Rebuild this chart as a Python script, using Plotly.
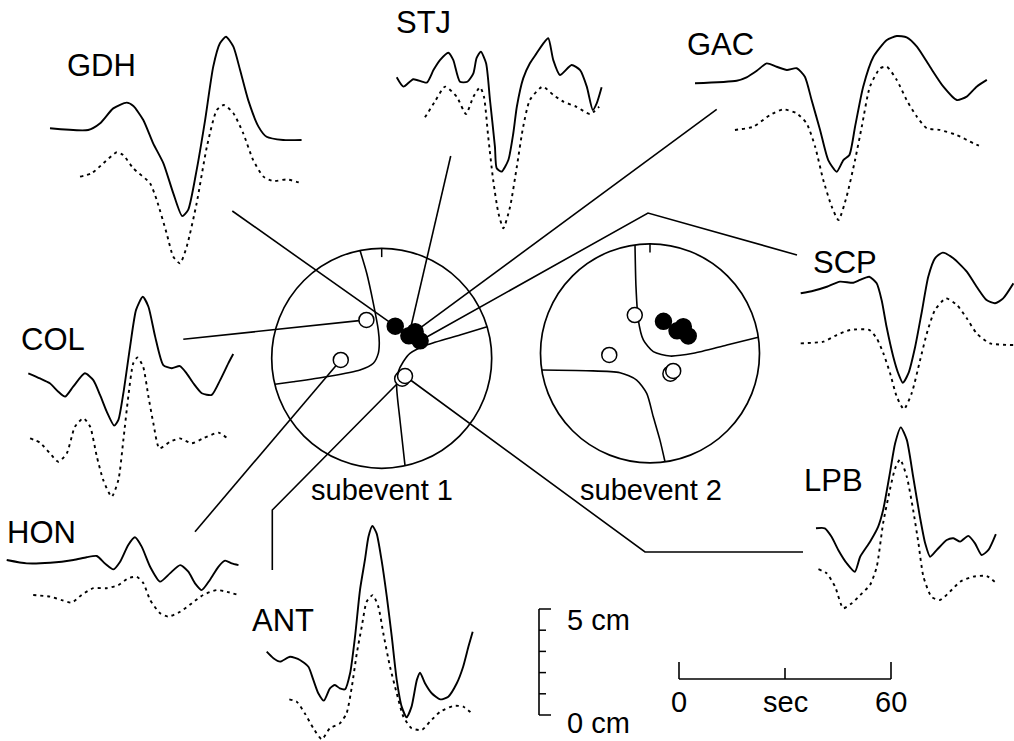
import plotly.graph_objects as go

# ---------------- DATA (time in s from trace start, amplitude in cm) ----------------
STATIONS = ["GDH", "STJ", "GAC", "SCP", "COL", "HON", "ANT", "LPB"]

GDH_T_OBS = [0, 10.8, 14.2, 17.9, 21.7, 23.6, 26.4, 29.2, 32.1, 34.9, 37.4, 39.1, 41.5, 43.9, 46.2, 48.1, 49.8, 51.9, 53.8, 56.1, 59.0, 61.3, 66.0, 71.2]
GDH_A_OBS = [0, -0.08, 0.24, 0.94, 1.21, 1.05, 0.39, -0.71, -1.65, -3.07, -4.14, -3.85, -1.97, 0.39, 2.91, 4.01, 4.32, 3.85, 2.75, 1.33, 0.08, -0.40, -0.55, -0.55]
GDH_T_SYN = [8.5, 11.8, 15.1, 18.9, 20.7, 23.6, 28.3, 30.2, 33.0, 34.9, 36.8, 38.7, 41.5, 44.4, 47.2, 49.2, 51.9, 54.7, 57.5, 60.4, 63.2, 67.0, 71.2]
GDH_A_SYN = [-2.28, -2.12, -1.65, -1.13, -1.26, -1.89, -2.59, -3.38, -4.95, -6.06, -6.37, -5.58, -3.54, -0.87, 0.86, 1.10, 0.71, -0.24, -1.50, -2.28, -2.49, -2.41, -2.59]

STJ_T_OBS = [0, 1.9, 4.7, 8.5, 10.4, 12.3, 14.6, 16.0, 17.9, 20.0, 21.7, 22.6, 23.8, 25.3, 26.4, 27.8, 28.3, 29.7, 31.6, 33.0, 34.0, 35.8, 37.7, 39.6, 41.5, 42.9, 44.3, 46.2, 49.5, 51.9, 53.8, 55.5, 56.6, 58.0]
STJ_A_OBS = [0, -0.44, -0.09, -0.25, 0.34, 0.82, 1.16, 0.82, -0.21, -0.21, 0.19, 0.90, 1.21, 0.66, -1.07, -3.27, -4.29, -4.45, -3.90, -2.64, -1.39, -0.05, 0.66, 1.13, 1.60, 1.84, 0.82, 0.11, 0.58, 0.34, -0.44, -1.54, -1.23, -0.47]
STJ_T_SYN = [8.0, 10.8, 13.7, 17.0, 19.6, 21.7, 23.6, 24.7, 25.9, 27.3, 28.8, 30.2, 32.1, 34.0, 35.8, 37.7, 41.3, 44.3, 47.2, 50.9, 54.7, 57.3]
STJ_A_SYN = [-1.89, -1.15, -0.44, -0.92, -1.73, -0.92, -0.47, -0.92, -2.80, -4.84, -6.42, -7.12, -6.10, -4.22, -2.33, -1.07, -0.44, -0.83, -1.15, -1.39, -1.73, -1.39]

GAC_T_OBS = [0, 11.8, 14.6, 17.5, 20.3, 23.1, 26.0, 28.8, 31.1, 33.0, 35.4, 37.7, 40.1, 42.0, 43.7, 45.3, 47.6, 50.5, 54.3, 57.1, 59.9, 62.8, 66.5, 70.3, 74.1, 76.9, 79.7, 82.6]
GAC_A_OBS = [0, 0.12, 0.28, 0.59, 0.94, 0.78, 0.63, 0.71, 0.31, -0.79, -2.20, -3.62, -4.17, -3.62, -3.38, -2.05, -0.16, 1.25, 2.04, 2.23, 2.17, 1.73, 0.78, -0.16, -0.79, -0.63, -0.16, 0.16]
GAC_T_SYN = [11.3, 16.5, 21.2, 25.0, 28.8, 31.6, 34.0, 36.3, 38.7, 40.6, 42.9, 45.3, 47.2, 49.5, 52.4, 54.3, 57.1, 59.9, 62.8, 65.6, 69.3, 74.1, 78.8, 81.1]
GAC_A_SYN = [-2.20, -2.05, -1.50, -1.23, -1.42, -1.89, -2.99, -4.56, -5.82, -6.45, -5.35, -3.62, -2.05, -0.16, 0.71, 0.78, 0.16, -0.79, -1.58, -2.12, -2.20, -2.44, -2.83, -2.99]

SCP_T_OBS = [0, 3.6, 7.4, 11.1, 14.9, 16.8, 19.4, 21.5, 22.9, 24.3, 26.2, 27.6, 28.9, 30.5, 32.4, 34.2, 36.1, 38.0, 40.2, 43.2, 47.0, 49.8, 52.6, 55.0, 57.3, 60.2]
SCP_A_OBS = [0, 0.12, 0.31, 0.55, 0.50, 0.63, 0.78, 0.47, -0.32, -1.58, -2.99, -3.77, -4.22, -3.77, -2.52, -0.94, 0.78, 1.65, 1.92, 1.65, 1.02, 0.31, -0.32, -0.47, -0.24, 0.47]
SCP_T_SYN = [0, 6.4, 10.2, 14.0, 19.4, 21.5, 23.4, 25.3, 27.2, 29.2, 31.4, 33.8, 35.7, 38.0, 41.1, 44.2, 47.0, 49.8, 53.6, 60.2]
SCP_A_SYN = [-2.36, -2.28, -1.97, -1.73, -1.73, -2.12, -2.83, -3.77, -4.88, -5.47, -4.72, -3.15, -1.89, -0.79, -0.24, -0.55, -1.18, -1.89, -2.36, -2.44]

COL_T_OBS = [0, 3.3, 6.1, 8.5, 10.4, 12.7, 16.0, 18.4, 20.3, 22.2, 24.3, 25.5, 26.9, 28.8, 30.5, 32.4, 34.0, 35.9, 38.2, 40.6, 42.9, 44.8, 46.7, 49.1, 51.9, 54.3, 56.6, 58.0]
COL_A_OBS = [0, -0.24, -0.47, -0.87, -1.10, -0.63, 0, -0.32, -1.02, -1.81, -2.47, -2.20, -0.94, 1.25, 2.99, 3.61, 3.14, 1.73, 0.39, 0.24, 0.34, 0, -0.47, -0.94, -1.02, -0.32, 0.47, 0.91]
COL_T_SYN = [0.5, 3.3, 6.1, 8.5, 10.9, 13.2, 15.6, 17.5, 19.4, 21.2, 23.6, 25.5, 26.9, 28.3, 29.7, 30.9, 32.5, 34.0, 35.4, 37.1, 40.1, 42.9, 46.2, 49.5, 53.8, 56.4]
COL_A_SYN = [-3.07, -3.27, -3.77, -4.17, -3.77, -2.52, -2.12, -2.52, -3.93, -5.03, -5.82, -5.03, -3.15, -1.10, 0.47, 0.75, 0.31, -1.10, -2.36, -3.54, -3.23, -3.07, -3.30, -3.07, -2.80, -3.07]

HON_T_OBS = [0, 5.7, 12.3, 18.9, 22.6, 25.5, 27.8, 30.2, 32.1, 34.4, 36.3, 38.2, 40.6, 43.4, 46.2, 49.1, 51.4, 53.3, 55.2, 57.5, 59.9, 61.8, 63.7, 65.6]
HON_A_OBS = [0, -0.16, -0.13, 0, 0.13, 0.19, -0.16, -0.44, -0.08, 0.71, 1.07, 0.63, -0.32, -1.02, -0.63, -0.24, -0.55, -1.10, -1.42, -0.94, -0.32, -0.03, -0.16, -0.24]
HON_T_SYN = [7.5, 12.3, 15.6, 18.4, 21.2, 24.5, 28.3, 31.6, 34.4, 36.8, 38.7, 40.6, 43.4, 45.7, 49.1, 52.4, 55.6, 59.4, 62.3, 65.6]
HON_A_SYN = [-1.65, -1.73, -1.89, -2.01, -1.65, -1.33, -1.33, -1.18, -0.86, -0.79, -1.10, -1.89, -2.51, -2.67, -2.44, -2.04, -1.65, -1.42, -1.50, -1.65]

ANT_T_OBS = [0, 1.9, 3.8, 6.6, 9.4, 11.8, 13.2, 14.6, 16.2, 17.9, 19.3, 20.7, 22.2, 23.6, 25.0, 26.4, 27.8, 28.8, 29.9, 31.1, 32.5, 34.0, 35.4, 36.8, 38.2, 39.6, 41.0, 42.5, 43.4, 44.8, 46.7, 49.1, 51.4, 53.8, 55.6, 57.1, 58.3]
ANT_A_OBS = [0, -0.31, -0.47, -0.24, -0.39, -0.71, -1.33, -1.96, -2.31, -1.73, -1.57, -1.73, -1.77, -1.02, 0.71, 2.91, 4.33, 5.42, 5.93, 5.58, 4.33, 2.59, 0.71, -1.33, -2.59, -3.09, -2.59, -1.33, -0.99, -1.49, -1.96, -2.25, -2.12, -1.49, -0.71, 0.24, 0.94]
ANT_T_SYN = [6.4, 8.5, 10.8, 13.2, 15.6, 17.9, 20.7, 22.6, 24.1, 25.5, 26.9, 28.3, 30.0, 31.6, 33.0, 34.9, 36.8, 38.7, 41.0, 43.9, 46.2, 49.1, 52.8, 55.6, 58.3]
ANT_A_SYN = [-2.25, -2.36, -2.91, -3.61, -4.13, -3.61, -3.38, -2.91, -1.65, -0.08, 1.18, 2.36, 2.67, 2.12, 0.87, -0.71, -1.96, -3.07, -3.61, -3.69, -3.30, -2.83, -2.56, -2.59, -2.94]

LPB_T_OBS = [0, 2.5, 4.4, 6.3, 8.7, 11.0, 12.5, 15.3, 17.6, 19.0, 20.9, 22.4, 24.0, 25.7, 27.5, 29.4, 30.9, 32.3, 34.2, 37.0, 38.9, 40.8, 43.1, 45.0, 46.9, 48.8, 50.9]
LPB_A_OBS = [0, 0, -0.40, -1.02, -1.65, -2.05, -1.34, -0.63, 0.08, 0.86, 2.59, 4.01, 4.76, 4.17, 2.43, 0.55, -0.71, -1.34, -1.02, -0.55, -0.47, -0.63, -0.36, -0.71, -1.26, -1.02, -0.27]
LPB_T_SYN = [0.7, 3.0, 5.4, 7.7, 10.1, 12.5, 15.3, 17.2, 19.0, 20.9, 22.4, 23.8, 25.7, 27.5, 29.0, 30.4, 32.7, 35.1, 37.9, 40.8, 44.5, 48.3, 51.1]
LPB_A_SYN = [-1.93, -2.12, -2.75, -3.77, -3.54, -3.15, -2.67, -1.81, 0.24, 1.81, 2.83, 3.25, 2.43, 0.86, -0.71, -2.28, -3.23, -3.38, -2.99, -2.52, -2.28, -2.25, -2.59]

# Focal-sphere (lower hemisphere) coordinates, unit radius: u east, v north
POL_U = [0.123, 0.247, 0.304, 0.349, -0.139, -0.372, 0.186, 0.212]
POL_V = [0.292, 0.205, 0.242, 0.159, 0.349, -0.015, -0.186, -0.161]
POL_SIGN = [1, 1, 1, 1, -1, -1, -1, -1]   # +1 compression (filled), -1 dilatation (open)

S1_NODAL_A_U = [-0.197, -0.136, -0.076, -0.031, -0.022, -0.031, -0.076, -0.197, -0.5, -0.804, -0.970]
S1_NODAL_A_V = [0.98, 0.773, 0.5, 0.257, 0.136, 0.045, -0.045, -0.106, -0.167, -0.213, -0.236]
S1_NODAL_B_U = [0.958, 0.712, 0.409, 0.257, 0.196, 0.151, 0.136, 0.166, 0.212]
S1_NODAL_B_V = [0.287, 0.212, 0.121, 0.045, -0.031, -0.122, -0.258, -0.561, -0.975]
S2_NODAL_C_U = [-0.137, -0.128, -0.107, -0.061, 0.030, 0.183, 0.396, 0.702, 0.989]
S2_NODAL_C_V = [0.99, 0.609, 0.305, 0.122, 0.015, -0.025, 0.0, 0.076, 0.146]
S2_NODAL_D_U = [-0.988, -0.579, -0.274, -0.122, -0.030, 0.030, 0.091, 0.137]
S2_NODAL_D_V = [-0.153, -0.159, -0.177, -0.244, -0.366, -0.580, -0.793, -0.99]

SCALE_CM = 5
SCALE_SEC = 60
SUBEVENT_LABELS = ["subevent 1", "subevent 2"]

WAVES = {
    "GDH": (GDH_T_OBS, GDH_A_OBS, GDH_T_SYN, GDH_A_SYN),
    "STJ": (STJ_T_OBS, STJ_A_OBS, STJ_T_SYN, STJ_A_SYN),
    "GAC": (GAC_T_OBS, GAC_A_OBS, GAC_T_SYN, GAC_A_SYN),
    "SCP": (SCP_T_OBS, SCP_A_OBS, SCP_T_SYN, SCP_A_SYN),
    "COL": (COL_T_OBS, COL_A_OBS, COL_T_SYN, COL_A_SYN),
    "HON": (HON_T_OBS, HON_A_OBS, HON_T_SYN, HON_A_SYN),
    "ANT": (ANT_T_OBS, ANT_A_OBS, ANT_T_SYN, ANT_A_SYN),
    "LPB": (LPB_T_OBS, LPB_A_OBS, LPB_T_SYN, LPB_A_SYN),
}

# ---------------- LAYOUT (page pixel positions) ----------------
W, H = 1014, 741
PX_PER_SEC = 212 / 60.0
PX_PER_CM = 106 / 5.0
TRACE_ORIGIN = {
    "GDH": (50, 128.3), "STJ": (396.7, 77.3), "GAC": (695, 83.3), "SCP": (800.7, 293.3),
    "COL": (28.3, 373.3), "HON": (6.7, 560), "ANT": (266.7, 651.7), "LPB": (816, 528.3),
}
LABEL_POS = {
    "GDH": (101, 65), "STJ": (423, 22), "GAC": (720, 44), "SCP": (845, 262),
    "COL": (53, 339), "HON": (41, 532), "ANT": (283, 620), "LPB": (833, 480),
}
# connector waypoints from station side toward the sphere (last point = polarity point)
CONNECTOR = {
    "GDH": [(232.3, 211)], "STJ": [(450.7, 156)], "GAC": [(716.7, 109.3)],
    "SCP": [(797, 255), (648, 213)], "COL": [(183.3, 339.3)], "HON": [(195, 531.7)],
    "ANT": [(272.3, 570), (272.3, 510)], "LPB": [(803, 552), (645, 552)],
}
SPHERES = [((381.7, 358.3), 110.0), ((650.0, 353.3), 109.5)]
SPHERE_LABEL_POS = [(382, 490), (651, 490)]
TIME_BAR_ORIGIN = (679, 679)
AMP_BAR_ORIGIN = (539, 715)

FONT = "Liberation Sans, Arial, Helvetica, sans-serif"
INK = "black"

fig = go.Figure()


def line(xs, ys, width=1.6, dash=None, shape="linear", smooth=None):
    ln = dict(color=INK, width=width, shape=shape)
    if dash:
        ln["dash"] = dash
    if smooth is not None:
        ln["smoothing"] = smooth
    fig.add_trace(go.Scatter(x=xs, y=ys, mode="lines", line=ln, hoverinfo="skip"))


def sph(i, u, v):
    (cx, cy), r = SPHERES[i]
    return [cx + a * r for a in u], [cy - b * r for b in v]


# connectors (under everything)
for k, st in enumerate(STATIONS):
    px, py = sph(0, [POL_U[k]], [POL_V[k]])
    pts = CONNECTOR[st] + [(px[0], py[0])]
    line([p[0] for p in pts], [p[1] for p in pts], width=1.6)

# waveforms
for st in STATIONS:
    x0, y0 = TRACE_ORIGIN[st]
    to, ao, ts, as_ = WAVES[st]
    line([x0 + t * PX_PER_SEC for t in to], [y0 - a * PX_PER_CM for a in ao],
         width=1.9, shape="spline", smooth=0.6)
    line([x0 + t * PX_PER_SEC for t in ts], [y0 - a * PX_PER_CM for a in as_],
         width=1.9, dash="3px,4px", shape="spline", smooth=0.6)

# focal spheres
shapes = []
for i, ((cx, cy), r) in enumerate(SPHERES):
    shapes.append(dict(type="circle", xref="x", yref="y", x0=cx - r, x1=cx + r,
                       y0=cy - r, y1=cy + r, line=dict(color=INK, width=1.7), layer="below"))
    tx, ty = sph(i, [0, 0], [1, 0.92])
    line(tx, ty, width=1.5)

for uu, vv in [(S1_NODAL_A_U, S1_NODAL_A_V), (S1_NODAL_B_U, S1_NODAL_B_V)]:
    x, y = sph(0, uu, vv)
    line(x, y, width=1.6, shape="spline", smooth=0.7)
for uu, vv in [(S2_NODAL_C_U, S2_NODAL_C_V), (S2_NODAL_D_U, S2_NODAL_D_V)]:
    x, y = sph(1, uu, vv)
    line(x, y, width=1.6, shape="spline", smooth=0.7)

for i in range(2):
    for sign in (-1, 1):
        uu = [u for u, s in zip(POL_U, POL_SIGN) if s == sign]
        vv = [v for v, s in zip(POL_V, POL_SIGN) if s == sign]
        x, y = sph(i, uu, vv)
        fig.add_trace(go.Scatter(
            x=x, y=y, mode="markers", hoverinfo="skip",
            marker=dict(size=16 if sign > 0 else 15,
                        color=INK if sign > 0 else "white",
                        line=dict(color=INK, width=1.5))))

# scale bars
tx0, ty0 = TIME_BAR_ORIGIN
line([tx0, tx0 + SCALE_SEC * PX_PER_SEC], [ty0, ty0], width=1.6)
for t, ln in [(0, 17), (SCALE_SEC / 2, 11), (SCALE_SEC, 17)]:
    line([tx0 + t * PX_PER_SEC] * 2, [ty0, ty0 - ln], width=1.6)
ax0, ay0 = AMP_BAR_ORIGIN
line([ax0, ax0], [ay0, ay0 - SCALE_CM * PX_PER_CM], width=1.6)
for c in range(SCALE_CM + 1):
    ln = 12 if c in (0, SCALE_CM) else 7
    line([ax0, ax0 + ln], [ay0 - c * PX_PER_CM] * 2, width=1.5)

# text
ann = []
for st in STATIONS:
    x, y = LABEL_POS[st]
    ann.append(dict(x=x, y=y, text=st, showarrow=False, xanchor="center", yanchor="middle",
                    font=dict(family=FONT, size=31, color=INK)))
for (x, y), txt in zip(SPHERE_LABEL_POS, SUBEVENT_LABELS):
    ann.append(dict(x=x, y=y, text=txt, showarrow=False, xanchor="center", yanchor="middle",
                    font=dict(family=FONT, size=29, color=INK)))
ann.append(dict(x=ax0 + 26, y=ay0 - SCALE_CM * PX_PER_CM + 11, text=f"{SCALE_CM} cm", showarrow=False,
                xanchor="left", yanchor="middle", font=dict(family=FONT, size=29, color=INK)))
ann.append(dict(x=ax0 + 26, y=ay0 + 8, text="0 cm", showarrow=False,
                xanchor="left", yanchor="middle", font=dict(family=FONT, size=29, color=INK)))
for t, txt in [(0, "0"), (SCALE_SEC / 2, "sec"), (SCALE_SEC, str(SCALE_SEC))]:
    ann.append(dict(x=tx0 + t * PX_PER_SEC, y=ty0 + 23, text=txt, showarrow=False,
                    xanchor="center", yanchor="middle", font=dict(family=FONT, size=29, color=INK)))

fig.update_layout(
    width=W, height=H, margin=dict(l=0, r=0, t=0, b=0),
    paper_bgcolor="white", plot_bgcolor="white", showlegend=False,
    xaxis=dict(range=[0, W], visible=False, fixedrange=True),
    yaxis=dict(range=[H, 0], visible=False, fixedrange=True),
    shapes=shapes, annotations=ann,
)
fig.write_html("out.html")
